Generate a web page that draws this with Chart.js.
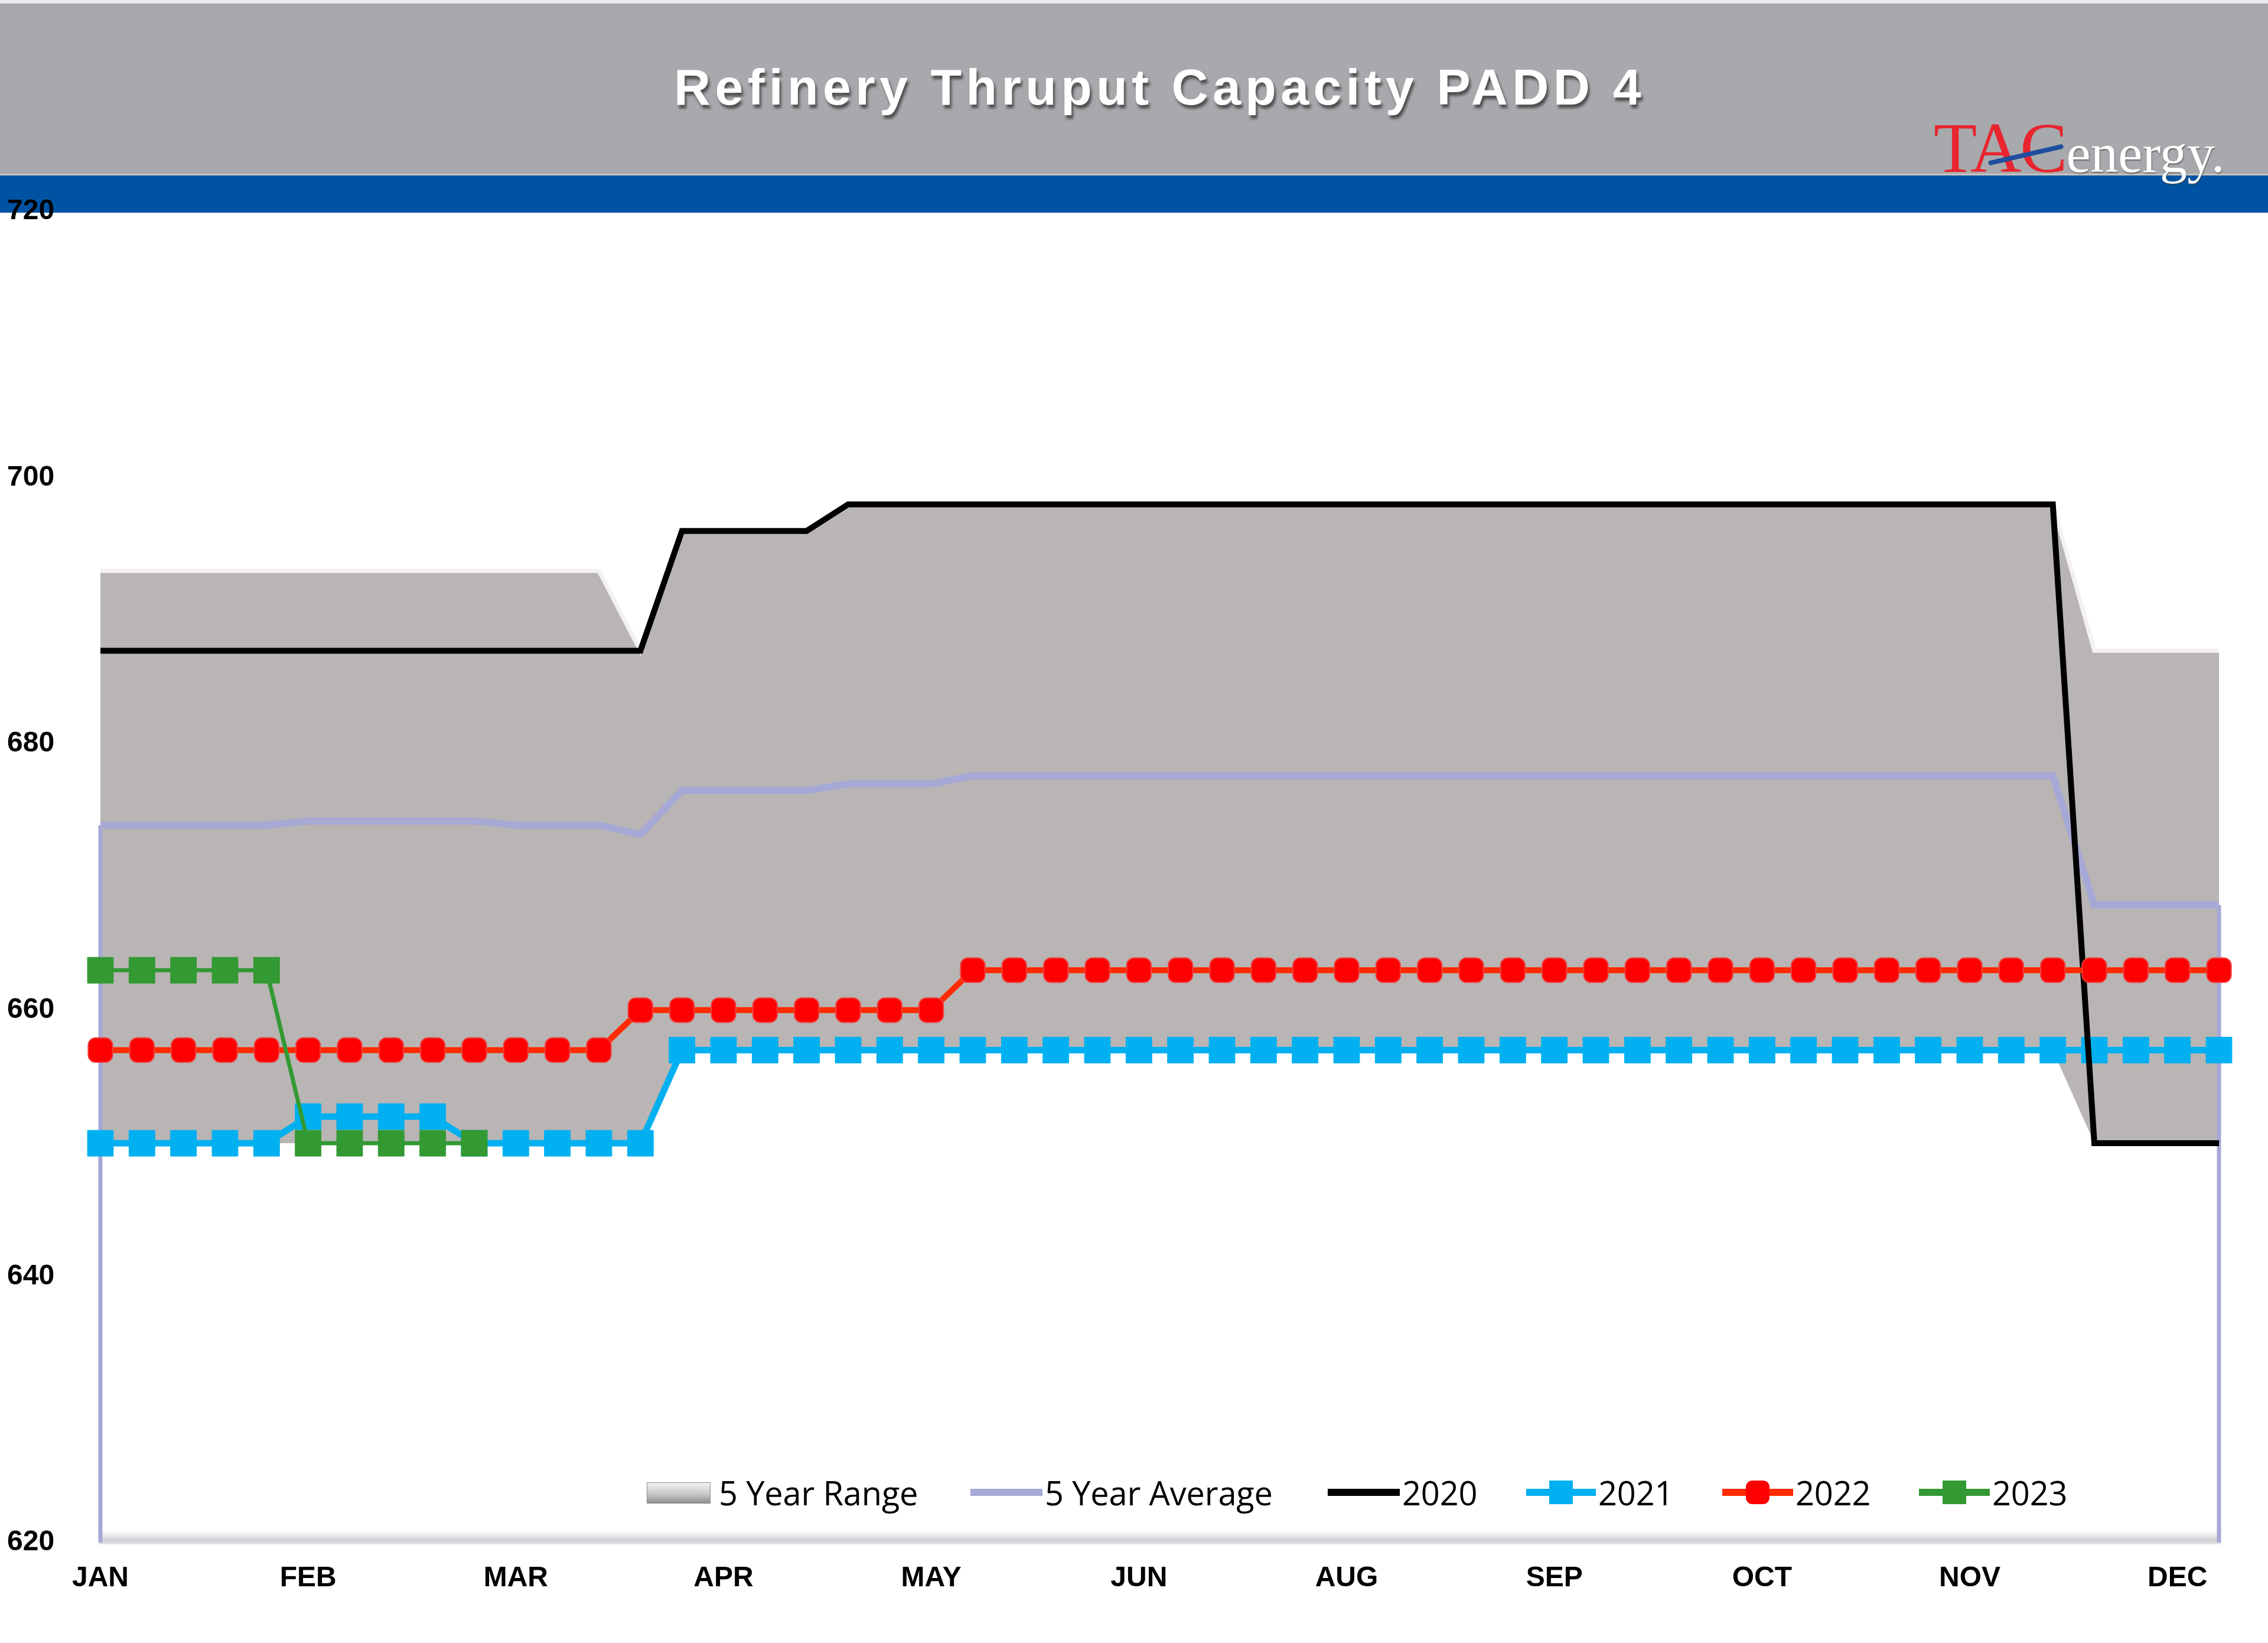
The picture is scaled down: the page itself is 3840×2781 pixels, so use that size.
<!DOCTYPE html>
<html>
<head>
<meta charset="utf-8">
<script src="https://cdn.jsdelivr.net/npm/chart.js@4.4.1/dist/chart.umd.min.js"></script>
<style>
html, body { margin: 0; padding: 0; background: #fff; }
body { width: 3840px; height: 2781px; position: relative; overflow: hidden; }
#banner { position: absolute; left: 0; top: 0; width: 3840px; height: 294px; background: #a7a9ac; border-top: 6px solid #e9eaeb; box-sizing: border-box; }
#band { position: absolute; left: 0; top: 294px; width: 3840px; height: 66px; background: #0053a3; border-top: 3px solid #c8c4bf; box-sizing: border-box; }
#title { position: absolute; left: 1141px; top: 104px; font: bold 86px 'Liberation Sans', Arial, sans-serif; line-height: 1; letter-spacing: 7.4px; color: #fff; white-space: nowrap; text-shadow: 3px 6px 4px rgba(50,50,50,0.75); }
#logo { position: absolute; left: 3274px; top: 191px; font-family: 'Liberation Serif', 'Times New Roman', serif; line-height: 1; white-space: nowrap; }
#logo .tac { font-size: 120px; color: #e8252f; letter-spacing: -2px; }
#logo .en { font-size: 93px; color: #fff; text-shadow: 1px 2px 2px rgba(60,60,60,0.6); }
#slash { position: absolute; left: 3365px; top: 258px; width: 130px; height: 8px; background: #1f4f9e; border-radius: 4px; transform: rotate(-13deg); }
#wrap { position: absolute; left: 0; top: 0; width: 3840px; height: 2781px; }
.li { position: absolute; top: 2496px; height: 60px; display: flex; align-items: center; font: 56px 'Open Sans', sans-serif; letter-spacing: -0.2px; color: #000; white-space: nowrap; }
.sym { position: relative; height: 60px; margin-right: 4px; }
.ln { position: absolute; left: 0; top: 24px; height: 12px; width: 100%; }
.mk { position: absolute; top: 10px; width: 40px; height: 40px; }
</style>
</head>
<body>
<div id="banner"></div>
<div id="band"></div>
<div id="title">Refinery Thruput Capacity PADD 4</div>
<div id="logo"><span class="tac">TAC</span><span class="en">energy.</span></div>
<div id="slash"></div>
<div id="wrap"><canvas id="chart"></canvas></div>

<div class="li" style="left:1095px"><div class="sym" style="width:108px"><div style="position:absolute;left:0;top:13px;width:106px;height:34px;border:1px solid #8c8c8c;background:linear-gradient(#f2f2f2,#c8c8c8 55%,#8f8f8f)"></div></div><span style="margin-left:10px">5 Year Range</span></div>
<div class="li" style="left:1643px"><div class="sym" style="width:122px"><div class="ln" style="background:#a6a8d5"></div></div><span>5 Year Average</span></div>
<div class="li" style="left:2248px"><div class="sym" style="width:122px"><div class="ln" style="background:#000"></div></div><span>2020</span></div>
<div class="li" style="left:2584px"><div class="sym" style="width:118px"><div class="ln" style="background:#00b0f0"></div><div class="mk" style="left:39px;background:#00b0f0"></div></div><span>2021</span></div>
<div class="li" style="left:2916px"><div class="sym" style="width:120px"><div class="ln" style="background:#ff2a00"></div><div class="mk" style="left:40px;background:#ff0000;border-radius:11px"></div></div><span>2022</span></div>
<div class="li" style="left:3249px"><div class="sym" style="width:120px"><div class="ln" style="background:#339933"></div><div class="mk" style="left:40px;background:#339933"></div></div><span>2023</span></div>

<script>
// weekly categories, one per week of the year
const weeks = [1, 2, 3, 4, 5, 6, 7, 8, 9, 10, 11, 12, 13, 14, 15, 16, 17, 18, 19, 20, 21, 22, 23, 24, 25, 26,
  27, 28, 29, 30, 31, 32, 33, 34, 35, 36, 37, 38, 39, 40, 41, 42, 43, 44, 45, 46, 47, 48, 49, 50, 51, 52];
// month labels shown on every 5th week
const monthLabels = ['JAN', 'FEB', 'MAR', 'APR', 'MAY', 'JUN', 'AUG', 'SEP', 'OCT', 'NOV', 'DEC'];
const yTicks = [620, 640, 660, 680, 700, 720];

const rangeMin = [650, 650, 650, 650, 650, 650, 650, 650, 650, 650, 650, 650, 650, 650,
  657, 657, 657, 657, 657, 657, 657, 657, 657, 657, 657, 657, 657, 657, 657, 657, 657,
  657, 657, 657, 657, 657, 657, 657, 657, 657, 657, 657, 657, 657, 657, 657, 657, 657,
  650, 650, 650, 650];
const rangeMax = [693, 693, 693, 693, 693, 693, 693, 693, 693, 693, 693, 693, 693, 687,
  696, 696, 696, 696, 698, 698, 698, 698, 698, 698, 698, 698, 698, 698, 698, 698, 698,
  698, 698, 698, 698, 698, 698, 698, 698, 698, 698, 698, 698, 698, 698, 698, 698, 698,
  687, 687, 687, 687];
const avg5 = [673.9, 673.9, 673.9, 673.9, 673.9, 674.2, 674.2, 674.2, 674.2, 674.2, 673.9, 673.9, 673.9, 673.2,
  676.5, 676.5, 676.5, 676.5, 677.0, 677.0, 677.0, 677.6, 677.6, 677.6, 677.6, 677.6, 677.6, 677.6, 677.6,
  677.6, 677.6, 677.6, 677.6, 677.6, 677.6, 677.6, 677.6, 677.6, 677.6, 677.6, 677.6, 677.6, 677.6, 677.6,
  677.6, 677.6, 677.6, 677.6, 667.9, 667.9, 667.9, 667.9];
const y2020 = [687, 687, 687, 687, 687, 687, 687, 687, 687, 687, 687, 687, 687, 687,
  696, 696, 696, 696, 698, 698, 698, 698, 698, 698, 698, 698, 698, 698, 698, 698, 698,
  698, 698, 698, 698, 698, 698, 698, 698, 698, 698, 698, 698, 698, 698, 698, 698, 698,
  650, 650, 650, 650];
const y2021 = [650, 650, 650, 650, 650, 652, 652, 652, 652, 650, 650, 650, 650, 650,
  657, 657, 657, 657, 657, 657, 657, 657, 657, 657, 657, 657, 657, 657, 657, 657, 657,
  657, 657, 657, 657, 657, 657, 657, 657, 657, 657, 657, 657, 657, 657, 657, 657, 657,
  657, 657, 657, 657];
const y2022 = [657, 657, 657, 657, 657, 657, 657, 657, 657, 657, 657, 657, 657,
  660, 660, 660, 660, 660, 660, 660, 660,
  663, 663, 663, 663, 663, 663, 663, 663, 663, 663, 663, 663, 663, 663, 663, 663,
  663, 663, 663, 663, 663, 663, 663, 663, 663, 663, 663, 663, 663, 663, 663];
const y2023 = [663, 663, 663, 663, 663, 650, 650, 650, 650, 650];

// Excel-style area outline: vertical edges of the average down to the axis, plus the floor shading
const edgesPlugin = {
  id: 'edges',
  beforeDatasetsDraw(chart) {
    const { ctx, chartArea: a } = chart;
    const g = ctx.createLinearGradient(0, a.bottom - 26, 0, a.bottom + 3);
    g.addColorStop(0, 'rgba(255,255,255,0)');
    g.addColorStop(0.75, '#cfcfd1');
    g.addColorStop(1, '#e4e4ec');
    ctx.save();
    ctx.fillStyle = g;
    ctx.fillRect(a.left - 3, a.bottom - 26, a.right - a.left + 6, 29);
    ctx.restore();
  },
  beforeDatasetDraw(chart, args) {
    if (chart.data.datasets[args.index].label !== '5 Year Average') return;
    const { ctx } = chart;
    const x = chart.scales.x, y = chart.scales.y;
    const last = avg5.length - 1;
    ctx.save();
    ctx.strokeStyle = '#a6a8d5';
    ctx.lineWidth = 7;
    ctx.beginPath();
    ctx.moveTo(x.getPixelForValue(0), y.getPixelForValue(avg5[0]));
    ctx.lineTo(x.getPixelForValue(0), y.getPixelForValue(620));
    ctx.moveTo(x.getPixelForValue(last), y.getPixelForValue(avg5[last]));
    ctx.lineTo(x.getPixelForValue(last), y.getPixelForValue(620));
    ctx.stroke();
    ctx.restore();
  }
};

const axisFont = { family: "'Liberation Sans', Arial, sans-serif", size: 48, weight: 'bold' };

new Chart(document.getElementById('chart'), {
  type: 'line',
  data: {
    labels: weeks,
    datasets: [
      { label: '5 Year Range', data: rangeMin, borderWidth: 0, pointRadius: 0, fill: false, order: 6 },
      { label: '5 Year Range', data: rangeMax, borderColor: '#f3f1f1', borderWidth: 7, pointRadius: 0,
        backgroundColor: '#b9b5b4', fill: '-1', order: 5 },
      { label: '5 Year Average', data: avg5, borderColor: '#a6a8d5', borderWidth: 12, pointRadius: 0, order: 4 },
      { label: '2020', data: y2020, borderColor: '#000000', borderWidth: 10, pointRadius: 0, order: 2 },
      { label: '2021', data: y2021, borderColor: '#00b0f0', borderWidth: 11, pointStyle: 'rect', pointRadius: 31,
        pointBackgroundColor: '#00b0f0', pointBorderColor: '#00b0f0', pointBorderWidth: 1, order: 3 },
      { label: '2022', data: y2022, borderColor: '#ff2a00', borderWidth: 10, pointStyle: 'rectRounded', pointRadius: 24,
        pointBackgroundColor: '#ff0000', pointBorderColor: '#f04040', pointBorderWidth: 2, order: 1 },
      { label: '2023', data: y2023, borderColor: '#339933', borderWidth: 7, pointStyle: 'rect', pointRadius: 31,
        pointBackgroundColor: '#339933', pointBorderColor: '#339933', pointBorderWidth: 1, order: 0 }
    ]
  },
  options: {
    responsive: true, maintainAspectRatio: false, animation: false,
    layout: { padding: { left: 12, right: 83, top: 358, bottom: 0 } },
    plugins: { legend: { display: false }, tooltip: { enabled: false } },
    scales: {
      x: {
        offset: false,
        grid: { display: false, drawTicks: false, tickLength: 0 },
        border: { display: false },
        ticks: {
          autoSkip: false, maxRotation: 0, padding: 32, color: '#000', font: axisFont,
          callback: (v, i) => (i % 5 === 0 ? monthLabels[i / 5] : '')
        },
        afterFit: s => { s.height = 170; }
      },
      y: {
        min: 620, max: 720,
        afterBuildTicks: s => { s.ticks = yTicks.map(v => ({ value: v })); },
        grid: { display: false, drawTicks: false, tickLength: 0 },
        border: { display: false },
        ticks: { crossAlign: 'far', padding: 0, color: '#000', font: axisFont },
        afterFit: s => { s.width = 158; }
      }
    }
  },
  plugins: [edgesPlugin]
});
</script>
</body>
</html>
